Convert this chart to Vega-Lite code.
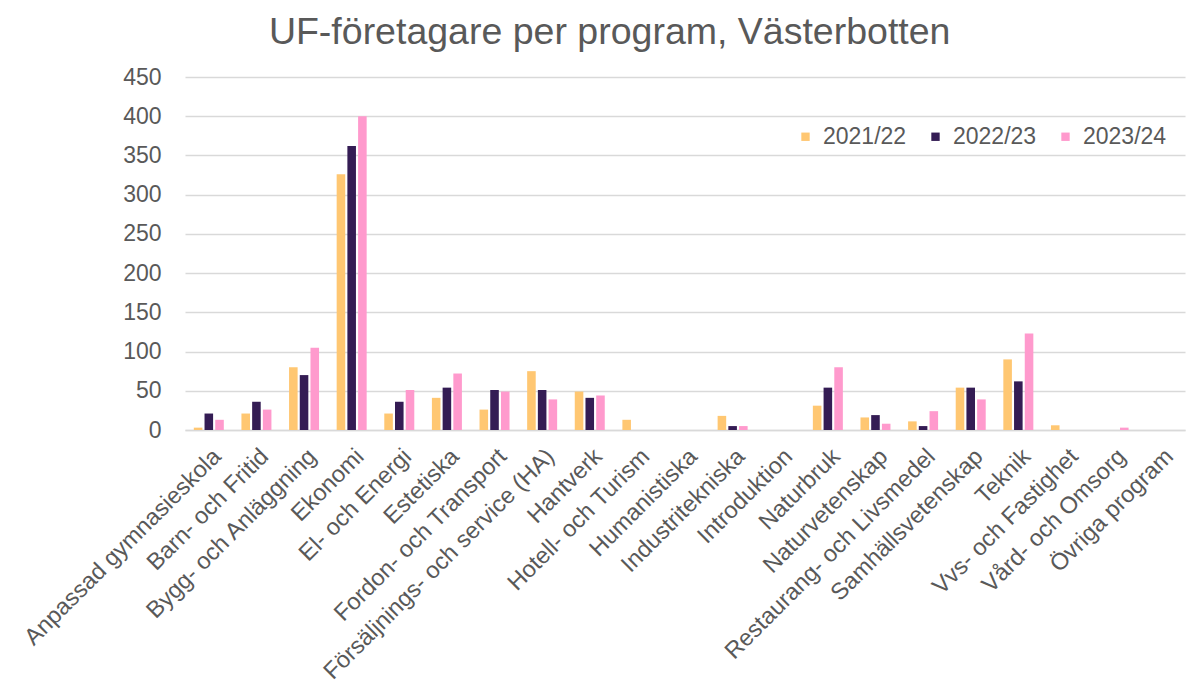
{
  "$schema": "https://vega.github.io/schema/vega-lite/v6.json",
  "width": 1000,
  "height": 353,
  "autosize": "none",
  "padding": {"left": 185, "top": 77, "right": 2, "bottom": 256},
  "background": "white",
  "config": {
    "font": "Liberation Sans",
    "view": {"stroke": null}
  },
  "title": {
    "text": "UF-företagare per program, Västerbotten",
    "fontSize": 37.5,
    "fontWeight": "normal",
    "color": "#595959",
    "anchor": "start",
    "baseline": "alphabetic",
    "dx": 249,
    "offset": 0,
    "dy": 15
  },
  "data": {
    "values": [
      {"program": "Anpassad gymnasieskola", "year": "2021/22", "value": 3},
      {"program": "Anpassad gymnasieskola", "year": "2022/23", "value": 21},
      {"program": "Anpassad gymnasieskola", "year": "2023/24", "value": 13},
      {"program": "Barn- och Fritid", "year": "2021/22", "value": 21},
      {"program": "Barn- och Fritid", "year": "2022/23", "value": 36},
      {"program": "Barn- och Fritid", "year": "2023/24", "value": 26},
      {"program": "Bygg- och Anläggning", "year": "2021/22", "value": 80},
      {"program": "Bygg- och Anläggning", "year": "2022/23", "value": 70},
      {"program": "Bygg- och Anläggning", "year": "2023/24", "value": 105},
      {"program": "Ekonomi", "year": "2021/22", "value": 326},
      {"program": "Ekonomi", "year": "2022/23", "value": 362},
      {"program": "Ekonomi", "year": "2023/24", "value": 400},
      {"program": "El- och Energi", "year": "2021/22", "value": 21},
      {"program": "El- och Energi", "year": "2022/23", "value": 36},
      {"program": "El- och Energi", "year": "2023/24", "value": 51},
      {"program": "Estetiska", "year": "2021/22", "value": 41},
      {"program": "Estetiska", "year": "2022/23", "value": 54},
      {"program": "Estetiska", "year": "2023/24", "value": 72},
      {"program": "Fordon- och Transport", "year": "2021/22", "value": 26},
      {"program": "Fordon- och Transport", "year": "2022/23", "value": 51},
      {"program": "Fordon- och Transport", "year": "2023/24", "value": 49},
      {"program": "Försäljnings- och service (HA)", "year": "2021/22", "value": 75},
      {"program": "Försäljnings- och service (HA)", "year": "2022/23", "value": 51},
      {"program": "Försäljnings- och service (HA)", "year": "2023/24", "value": 39},
      {"program": "Hantverk", "year": "2021/22", "value": 49},
      {"program": "Hantverk", "year": "2022/23", "value": 41},
      {"program": "Hantverk", "year": "2023/24", "value": 44},
      {"program": "Hotell- och Turism", "year": "2021/22", "value": 13},
      {"program": "Hotell- och Turism", "year": "2022/23", "value": 0},
      {"program": "Hotell- och Turism", "year": "2023/24", "value": 0},
      {"program": "Humanistiska", "year": "2021/22", "value": 0},
      {"program": "Humanistiska", "year": "2022/23", "value": 0},
      {"program": "Humanistiska", "year": "2023/24", "value": 0},
      {"program": "Industritekniska", "year": "2021/22", "value": 18},
      {"program": "Industritekniska", "year": "2022/23", "value": 5},
      {"program": "Industritekniska", "year": "2023/24", "value": 5},
      {"program": "Introduktion", "year": "2021/22", "value": 0},
      {"program": "Introduktion", "year": "2022/23", "value": 0},
      {"program": "Introduktion", "year": "2023/24", "value": 0},
      {"program": "Naturbruk", "year": "2021/22", "value": 31},
      {"program": "Naturbruk", "year": "2022/23", "value": 54},
      {"program": "Naturbruk", "year": "2023/24", "value": 80},
      {"program": "Naturvetenskap", "year": "2021/22", "value": 16},
      {"program": "Naturvetenskap", "year": "2022/23", "value": 19},
      {"program": "Naturvetenskap", "year": "2023/24", "value": 8},
      {"program": "Restaurang- och Livsmedel", "year": "2021/22", "value": 11},
      {"program": "Restaurang- och Livsmedel", "year": "2022/23", "value": 5},
      {"program": "Restaurang- och Livsmedel", "year": "2023/24", "value": 24},
      {"program": "Samhällsvetenskap", "year": "2021/22", "value": 54},
      {"program": "Samhällsvetenskap", "year": "2022/23", "value": 54},
      {"program": "Samhällsvetenskap", "year": "2023/24", "value": 39},
      {"program": "Teknik", "year": "2021/22", "value": 90},
      {"program": "Teknik", "year": "2022/23", "value": 62},
      {"program": "Teknik", "year": "2023/24", "value": 123},
      {"program": "Vvs- och Fastighet", "year": "2021/22", "value": 6},
      {"program": "Vvs- och Fastighet", "year": "2022/23", "value": 0},
      {"program": "Vvs- och Fastighet", "year": "2023/24", "value": 0},
      {"program": "Vård- och Omsorg", "year": "2021/22", "value": 0},
      {"program": "Vård- och Omsorg", "year": "2022/23", "value": 0},
      {"program": "Vård- och Omsorg", "year": "2023/24", "value": 3},
      {"program": "Övriga program", "year": "2021/22", "value": 0},
      {"program": "Övriga program", "year": "2022/23", "value": 0},
      {"program": "Övriga program", "year": "2023/24", "value": 0}
    ]
  },
  "mark": {"type": "bar"},
  "encoding": {
    "x": {
      "field": "program",
      "type": "nominal",
      "sort": null,
      "title": null,
      "scale": {"paddingInner": 0.37, "paddingOuter": 0.185},
      "axis": {
        "labelAngle": -45,
        "labelFontSize": 23.5,
        "labelColor": "#595959",
        "labelPadding": 14,
        "labelLimit": 500,
        "ticks": false,
        "domainColor": "#D9D9D9",
        "domainWidth": 1.5,
        "grid": false
      }
    },
    "xOffset": {
      "field": "year",
      "type": "nominal",
      "scale": {"paddingInner": 0.2, "paddingOuter": 0}
    },
    "y": {
      "field": "value",
      "type": "quantitative",
      "title": null,
      "scale": {"domain": [0, 450], "nice": false},
      "axis": {
        "values": [0, 50, 100, 150, 200, 250, 300, 350, 400, 450],
        "labelFontSize": 23,
        "labelColor": "#595959",
        "labelPadding": 24,
        "ticks": false,
        "domain": false,
        "gridColor": "#D9D9D9",
        "gridWidth": 1.5
      }
    },
    "color": {
      "field": "year",
      "type": "nominal",
      "title": null,
      "scale": {
        "domain": ["2021/22", "2022/23", "2023/24"],
        "range": ["#FFC772", "#341C54", "#FF9ACD"]
      },
      "legend": {
        "orient": "none",
        "direction": "horizontal",
        "legendX": 609,
        "legendY": 48,
        "padding": 0,
        "symbolType": "square",
        "symbolSize": 70,
        "symbolStrokeWidth": 0,
        "labelFontSize": 23,
        "labelColor": "#595959",
        "labelOffset": 6,
        "columnPadding": 17,
        "fillColor": "white"
      }
    }
  }
}
